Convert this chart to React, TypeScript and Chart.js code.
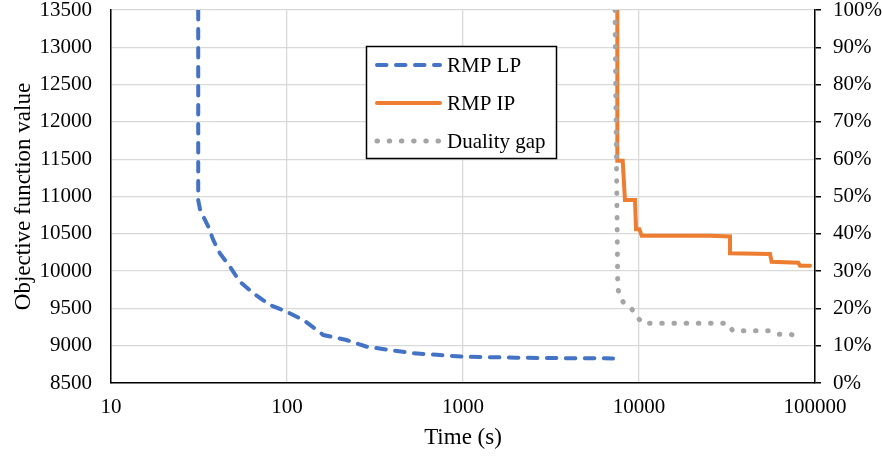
import React, { useEffect, useRef } from "react";
import { Chart, registerables } from "chart.js";

Chart.register(...registerables);

// ---- Data ----
const xTickValues = [10, 100, 1000, 10000, 100000];

const lpTime = [31.3, 31.3, 32.1, 35.7, 38.1, 41.6, 47.4, 54.0, 64.4, 80.0, 99.5, 124, 161, 218, 284, 385, 522, 740, 1000, 2000, 4000, 7120];
const lpValue = [13500, 10950, 10819, 10595, 10417, 10238, 10059, 9858, 9702, 9546, 9456, 9344, 9143, 9076, 8986, 8942, 8898, 8875, 8852, 8840, 8832, 8830];

const ipTime = [7530, 7530, 8080, 8320, 9490, 9620, 10050, 10360, 25300, 32900, 32900, 55500, 56700, 80300, 82200, 93700];
const ipValue = [13500, 11480, 11480, 10953, 10953, 10560, 10560, 10475, 10475, 10465, 10239, 10230, 10126, 10113, 10073, 10073];

const gapTime = [7300, 7570, 7730, 8250, 9100, 9710, 10500, 31800, 34100, 54300, 61100, 71100, 81400];
const gapValue = [100, 25.7, 23.4, 21.2, 19.8, 17.8, 16.0, 16.0, 14.0, 14.0, 13.1, 13.1, 12.6];

const seriesLabels = ["RMP LP", "RMP IP", "Duality gap"];

const FONT = "'Liberation Serif', 'Times New Roman', serif";

const zip = (xs: number[], ys: number[]) => xs.map((x, i) => ({ x, y: ys[i] }));

const legendPlugin = {
  id: "boxLegend",
  afterDatasetsDraw(chart: any) {
    const ctx = chart.ctx;
    ctx.save();
    const bx = 366.5, by = 46.5, bw = 190, bh = 112;
    ctx.fillStyle = "#fff";
    ctx.fillRect(bx, by, bw, bh);
    ctx.strokeStyle = "#000";
    ctx.lineWidth = 1.5;
    ctx.setLineDash([]);
    ctx.strokeRect(bx, by, bw, bh);
    chart.data.datasets.forEach((ds: any, i: number) => {
      const y = 65 + i * 38;
      ctx.save();
      ctx.strokeStyle = ds.borderColor;
      ctx.lineWidth = ds.borderWidth;
      ctx.lineCap = ds.borderCapStyle || "butt";
      ctx.setLineDash(ds.borderDash || []);
      ctx.beginPath();
      ctx.moveTo(377, y);
      ctx.lineTo(440, y);
      ctx.stroke();
      ctx.restore();
      ctx.fillStyle = "#000";
      ctx.font = `21px ${FONT}`;
      ctx.textAlign = "left";
      ctx.textBaseline = "middle";
      ctx.fillText(ds.label, 447, y + 1);
    });
    ctx.restore();
  },
};

export default function App() {
  const ref = useRef<HTMLCanvasElement | null>(null);

  useEffect(() => {
    if (!ref.current) return;
    const chart = new Chart(ref.current, {
      type: "scatter",
      data: {
        datasets: [
          {
            label: seriesLabels[0],
            data: zip(lpTime, lpValue),
            yAxisID: "y",
            showLine: true,
            borderColor: "#4472C4",
            backgroundColor: "#4472C4",
            borderWidth: 4,
            borderDash: [9.5, 9.5],
            borderCapStyle: "round",
            pointRadius: 0,
            order: 2,
            clip: 0,
          },
          {
            label: seriesLabels[1],
            data: zip(ipTime, ipValue),
            yAxisID: "y",
            showLine: true,
            borderColor: "#ED7D31",
            backgroundColor: "#ED7D31",
            borderWidth: 4,
            borderCapStyle: "round",
            pointRadius: 0,
            order: 1,
            clip: 0,
          },
          {
            label: seriesLabels[2],
            data: zip(gapTime, gapValue),
            yAxisID: "y1",
            showLine: true,
            borderColor: "#A5A5A5",
            backgroundColor: "#A5A5A5",
            borderWidth: 5,
            borderDash: [0.5, 11.7],
            borderCapStyle: "round",
            pointRadius: 0,
            order: 0,
            clip: 0,
          },
        ],
      } as any,
      options: {
        animation: false,
        responsive: false,
        layout: { padding: { top: 10, left: 0, right: 0, bottom: 0 } },
        plugins: {
          legend: { display: false },
          tooltip: { enabled: false },
        },
        scales: {
          x: {
            type: "logarithmic",
            min: 10,
            max: 100000,
            afterBuildTicks: (s: any) => {
              s.ticks = xTickValues.map((v) => ({ value: v }));
            },
            afterFit: (s: any) => {
              s.height = 73;
              s.paddingLeft = 0;
              s.paddingRight = 0;
            },
            ticks: {
              autoSkip: false,
              maxRotation: 0,
              padding: 12,
              color: "#000",
              font: { family: FONT, size: 21 },
              callback: (v: any) => String(v),
            },
            grid: { color: "#d9d9d9", lineWidth: 1.3, drawTicks: false },
            border: { color: "#000", width: 1.5 },
            title: {
              display: true,
              text: "Time (s)",
              color: "#000",
              font: { family: FONT, size: 23 },
              padding: { top: 0, bottom: 4 },
            },
          },
          y: {
            type: "linear",
            position: "left",
            min: 8500,
            max: 13500,
            afterFit: (s: any) => {
              s.width = 111;
              s.paddingTop = 0;
              s.paddingBottom = 0;
            },
            ticks: {
              stepSize: 500,
              padding: 19,
              color: "#000",
              font: { family: FONT, size: 21 },
              callback: (v: any) => String(v),
            },
            grid: { color: "#d9d9d9", lineWidth: 1.3, drawTicks: false },
            border: { color: "#000", width: 1.5 },
            title: {
              display: true,
              text: "Objective function value",
              color: "#000",
              font: { family: FONT, size: 23 },
              padding: { top: 10, bottom: 0 },
            },
          },
          y1: {
            type: "linear",
            position: "right",
            min: 0,
            max: 100,
            afterFit: (s: any) => {
              s.width = 68;
              s.paddingTop = 0;
              s.paddingBottom = 0;
            },
            ticks: {
              stepSize: 10,
              padding: 12,
              color: "#000",
              font: { family: FONT, size: 21 },
              callback: (v: any) => v + "%",
            },
            grid: {
              drawOnChartArea: false,
              color: "#000",
              lineWidth: 1.5,
              tickLength: 6,
            },
            border: { color: "#000", width: 1.5 },
          },
        },
      } as any,
      plugins: [legendPlugin],
    });
    return () => chart.destroy();
  }, []);

  return (
    <div style={{ position: "fixed", left: 0, top: 0, width: 883, height: 456, background: "#fff" }}>
      <canvas ref={ref} width={883} height={456} />
    </div>
  );
}
